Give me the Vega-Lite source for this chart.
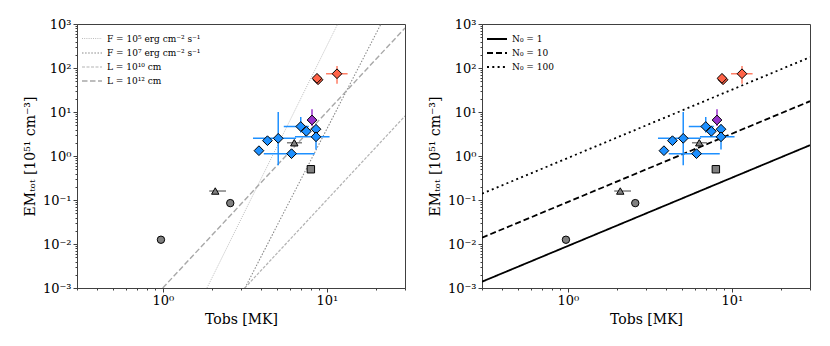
{
  "$schema": "https://vega.github.io/schema/vega-lite/v6.json",
  "background": "white",
  "padding": {"left": 22, "top": 17, "right": 0, "bottom": 0},
  "bounds": "flush",
  "spacing": 77,
  "datasets": {
    "points": [
      {"T": 3.86, "EM": 1.32, "kind": "blue", "Tlo": 3.7, "Thi": 4.05},
      {"T": 4.35, "EM": 2.23, "kind": "blue"},
      {"T": 5.06, "EM": 2.52, "kind": "blue", "Tlo": 3.55, "Thi": 6.5, "EMlo": 0.62, "EMhi": 10.0},
      {"T": 6.10, "EM": 1.13, "kind": "blue", "Tlo": 4.13, "Thi": 8.45},
      {"T": 6.94, "EM": 4.68, "kind": "blue", "Tlo": 5.47, "Thi": 7.77, "EMlo": 3.4, "EMhi": 7.7},
      {"T": 7.51, "EM": 3.64, "kind": "blue"},
      {"T": 8.60, "EM": 4.06, "kind": "blue"},
      {"T": 8.60, "EM": 2.73, "kind": "blue", "Tlo": 6.4, "Thi": 10.4, "EMlo": 1.4, "EMhi": 5.2},
      {"T": 8.13, "EM": 6.58, "kind": "purple", "Tlo": 7.8, "Thi": 8.5, "EMlo": 4.8, "EMhi": 11.5},
      {"T": 8.85, "EM": 54, "kind": "red"},
      {"T": 8.72, "EM": 58.2, "kind": "red"},
      {"T": 11.55, "EM": 74, "kind": "red", "Tlo": 9.9, "Thi": 13.4, "EMlo": 44, "EMhi": 111},
      {"T": 0.975, "EM": 0.0125, "kind": "gray_circle"},
      {"T": 2.58, "EM": 0.085, "kind": "gray_circle"},
      {"T": 2.09, "EM": 0.16, "kind": "gray_triangle", "Tlo": 1.92, "Thi": 2.43},
      {"T": 6.34, "EM": 2.0, "kind": "gray_triangle", "Tlo": 5.72, "Thi": 7.06},
      {"T": 8.0, "EM": 0.5, "kind": "gray_square"}
    ],
    "modelA": [
      {"model": "F = 10⁵ erg cm⁻² s⁻¹", "T": 1.86, "EM": 0.001},
      {"model": "F = 10⁵ erg cm⁻² s⁻¹", "T": 11.66, "EM": 1000},
      {"model": "F = 10⁷ erg cm⁻² s⁻¹", "T": 3.17, "EM": 0.001},
      {"model": "F = 10⁷ erg cm⁻² s⁻¹", "T": 21.4, "EM": 1000},
      {"model": "L = 10¹⁰ cm", "T": 3.16, "EM": 0.001},
      {"model": "L = 10¹⁰ cm", "T": 30, "EM": 8.1},
      {"model": "L = 10¹² cm", "T": 1.0, "EM": 0.001},
      {"model": "L = 10¹² cm", "T": 30, "EM": 810}
    ],
    "modelB": [
      {"model": "N₀ = 1", "T": 0.3, "EM": 0.00139},
      {"model": "N₀ = 1", "T": 30, "EM": 1.76},
      {"model": "N₀ = 10", "T": 0.3, "EM": 0.0139},
      {"model": "N₀ = 10", "T": 30, "EM": 17.6},
      {"model": "N₀ = 100", "T": 0.3, "EM": 0.139},
      {"model": "N₀ = 100", "T": 30, "EM": 176}
    ]
  },
  "config": {
    "font": "DejaVu Serif",
    "view": {"stroke": "#404040", "strokeWidth": 1},
    "axis": {
      "labelFont": "DejaVu Serif", "labelFontSize": 13, "labelColor": "#000",
      "titleFont": "DejaVu Serif", "titleFontSize": 14, "titleFontWeight": "normal", "titleColor": "#000",
      "domainColor": "#404040", "tickColor": "#404040", "tickWidth": 1,
      "labelPadding": 2, "titlePadding": 5, "grid": false, "labelOverlap": false
    },
    "legend": {
      "orient": "top-left", "offset": 6, "padding": 3,
      "labelFont": "DejaVu Serif", "labelFontSize": 9, "labelColor": "#000",
      "symbolType": "M-2,0L2,0", "symbolSize": 100, "rowPadding": 3, "labelOffset": 9
    }
  },
  "hconcat": [
    {
      "width": 328, "height": 264,
      "layer": [
        {
          "data": {"name": "modelA"},
          "mark": {"type": "line", "clip": true},
          "encoding": {
            "x": {"field": "T", "type": "quantitative", "scale": {"type": "log", "domain": [0.3, 30], "nice": false},
              "axis": {"title": "Tobs [MK]", "values": [0.3,0.4,0.5,0.6,0.7,0.8,0.9,1,2,3,4,5,6,7,8,9,10,20,30],
                "labelExpr": "datum.value == 1 ? '10⁰' : datum.value == 10 ? '10¹' : ''",
                "tickSize": {"condition": {"test": "datum.value == 1 || datum.value == 10", "value": 4}, "value": 2}}},
            "y": {"field": "EM", "type": "quantitative", "scale": {"type": "log", "domain": [0.001, 1000], "nice": false},
              "axis": {"title": "EMₜₒₜ [10⁵¹ cm⁻³]",
                "values": [0.001,0.002,0.003,0.004,0.005,0.006,0.007,0.008,0.009,0.01,0.02,0.03,0.04,0.05,0.06,0.07,0.08,0.09,0.1,0.2,0.3,0.4,0.5,0.6,0.7,0.8,0.9,1,2,3,4,5,6,7,8,9,10,20,30,40,50,60,70,80,90,100,200,300,400,500,600,700,800,900,1000],
                "labelExpr": "datum.value == 0.001 ? '10⁻³' : datum.value == 0.01 ? '10⁻²' : datum.value == 0.1 ? '10⁻¹' : datum.value == 1 ? '10⁰' : datum.value == 10 ? '10¹' : datum.value == 100 ? '10²' : datum.value == 1000 ? '10³' : ''",
                "tickSize": {"condition": {"test": "datum.value == 0.001 || datum.value == 0.01 || datum.value == 0.1 || datum.value == 1 || datum.value == 10 || datum.value == 100 || datum.value == 1000", "value": 4}, "value": 2}}},
            "color": {"field": "model", "type": "nominal", "legend": {"title": null},
              "scale": {"domain": ["F = 10⁵ erg cm⁻² s⁻¹", "F = 10⁷ erg cm⁻² s⁻¹", "L = 10¹⁰ cm", "L = 10¹² cm"], "range": ["#b4b4b4", "#888888", "#b4b4b4", "#a8a8a8"]}},
            "strokeDash": {"field": "model", "type": "nominal", "legend": {"title": null},
              "scale": {"domain": ["F = 10⁵ erg cm⁻² s⁻¹", "F = 10⁷ erg cm⁻² s⁻¹", "L = 10¹⁰ cm", "L = 10¹² cm"], "range": [[1, 1.2], [1.5, 1.6], [3, 1.5], [5.5, 2.5]]}},
            "strokeWidth": {"field": "model", "type": "nominal", "legend": {"title": null},
              "scale": {"domain": ["F = 10⁵ erg cm⁻² s⁻¹", "F = 10⁷ erg cm⁻² s⁻¹", "L = 10¹⁰ cm", "L = 10¹² cm"], "range": [0.9, 1.4, 0.9, 1.6]}}
          }
        },
        {
          "data": {"name": "points"},
          "transform": [{"filter": "isValid(datum.Tlo)"}],
          "mark": {"type": "rule", "strokeWidth": 1.5},
          "encoding": {
            "x": {"field": "Tlo", "type": "quantitative", "scale": {"type": "log", "domain": [0.3, 30], "nice": false}},
            "x2": {"field": "Thi"},
            "y": {"field": "EM", "type": "quantitative", "scale": {"type": "log", "domain": [0.001, 1000], "nice": false}},
            "stroke": {"field": "kind", "type": "nominal", "legend": null,
              "scale": {"domain": ["blue", "purple", "red", "gray_triangle"], "range": ["#1E90FF", "#9932CC", "#FF7F66", "#808080"]}}
          }
        },
        {
          "data": {"name": "points"},
          "transform": [{"filter": "isValid(datum.EMlo)"}],
          "mark": {"type": "rule", "strokeWidth": 1.5},
          "encoding": {
            "x": {"field": "T", "type": "quantitative", "scale": {"type": "log", "domain": [0.3, 30], "nice": false}},
            "y": {"field": "EMlo", "type": "quantitative", "scale": {"type": "log", "domain": [0.001, 1000], "nice": false}},
            "y2": {"field": "EMhi"},
            "stroke": {"field": "kind", "type": "nominal", "legend": null,
              "scale": {"domain": ["blue", "purple", "red", "gray_triangle"], "range": ["#1E90FF", "#9932CC", "#FF7F66", "#808080"]}}
          }
        },
        {
          "data": {"name": "points"},
          "transform": [{"filter": "datum.kind == 'blue' || datum.kind == 'purple' || datum.kind == 'red'"}],
          "mark": {"type": "point", "filled": true, "shape": "diamond", "size": 95, "stroke": "black", "strokeWidth": 1, "opacity": 1},
          "encoding": {
            "x": {"field": "T", "type": "quantitative", "scale": {"type": "log", "domain": [0.3, 30], "nice": false}},
            "y": {"field": "EM", "type": "quantitative", "scale": {"type": "log", "domain": [0.001, 1000], "nice": false}},
            "fill": {"field": "kind", "type": "nominal", "legend": null,
              "scale": {"domain": ["blue", "purple", "red"], "range": ["#1E90FF", "#9932CC", "#FF6347"]}}
          }
        },
        {
          "data": {"name": "points"},
          "transform": [{"filter": "indexof(datum.kind, 'gray') == 0"}],
          "mark": {"type": "point", "filled": true, "size": 55, "color": "#808080", "stroke": "black", "strokeWidth": 1, "opacity": 1},
          "encoding": {
            "x": {"field": "T", "type": "quantitative", "scale": {"type": "log", "domain": [0.3, 30], "nice": false}},
            "y": {"field": "EM", "type": "quantitative", "scale": {"type": "log", "domain": [0.001, 1000], "nice": false}},
            "shape": {"field": "kind", "type": "nominal", "legend": null,
              "scale": {"domain": ["gray_circle", "gray_triangle", "gray_square"], "range": ["circle", "triangle-up", "square"]}}
          }
        }
      ]
    },
    {
      "width": 328, "height": 264,
      "layer": [
        {
          "data": {"name": "modelB"},
          "mark": {"type": "line", "clip": true},
          "encoding": {
            "x": {"field": "T", "type": "quantitative", "scale": {"type": "log", "domain": [0.3, 30], "nice": false},
              "axis": {"title": "Tobs [MK]", "values": [0.3,0.4,0.5,0.6,0.7,0.8,0.9,1,2,3,4,5,6,7,8,9,10,20,30],
                "labelExpr": "datum.value == 1 ? '10⁰' : datum.value == 10 ? '10¹' : ''",
                "tickSize": {"condition": {"test": "datum.value == 1 || datum.value == 10", "value": 4}, "value": 2}}},
            "y": {"field": "EM", "type": "quantitative", "scale": {"type": "log", "domain": [0.001, 1000], "nice": false},
              "axis": {"title": "EMₜₒₜ [10⁵¹ cm⁻³]",
                "values": [0.001,0.002,0.003,0.004,0.005,0.006,0.007,0.008,0.009,0.01,0.02,0.03,0.04,0.05,0.06,0.07,0.08,0.09,0.1,0.2,0.3,0.4,0.5,0.6,0.7,0.8,0.9,1,2,3,4,5,6,7,8,9,10,20,30,40,50,60,70,80,90,100,200,300,400,500,600,700,800,900,1000],
                "labelExpr": "datum.value == 0.001 ? '10⁻³' : datum.value == 0.01 ? '10⁻²' : datum.value == 0.1 ? '10⁻¹' : datum.value == 1 ? '10⁰' : datum.value == 10 ? '10¹' : datum.value == 100 ? '10²' : datum.value == 1000 ? '10³' : ''",
                "tickSize": {"condition": {"test": "datum.value == 0.001 || datum.value == 0.01 || datum.value == 0.1 || datum.value == 1 || datum.value == 10 || datum.value == 100 || datum.value == 1000", "value": 4}, "value": 2}}},
            "color": {"field": "model", "type": "nominal", "legend": {"title": null},
              "scale": {"domain": ["N₀ = 1", "N₀ = 10", "N₀ = 100"], "range": ["#000000", "#000000", "#000000"]}},
            "strokeDash": {"field": "model", "type": "nominal", "legend": {"title": null},
              "scale": {"domain": ["N₀ = 1", "N₀ = 10", "N₀ = 100"], "range": [[1, 0], [6, 3], [2, 3.3]]}},
            "strokeWidth": {"field": "model", "type": "nominal", "legend": {"title": null},
              "scale": {"domain": ["N₀ = 1", "N₀ = 10", "N₀ = 100"], "range": [1.8, 1.8, 2]}}
          }
        },
        {
          "data": {"name": "points"},
          "transform": [{"filter": "isValid(datum.Tlo)"}],
          "mark": {"type": "rule", "strokeWidth": 1.5},
          "encoding": {
            "x": {"field": "Tlo", "type": "quantitative", "scale": {"type": "log", "domain": [0.3, 30], "nice": false}},
            "x2": {"field": "Thi"},
            "y": {"field": "EM", "type": "quantitative", "scale": {"type": "log", "domain": [0.001, 1000], "nice": false}},
            "stroke": {"field": "kind", "type": "nominal", "legend": null,
              "scale": {"domain": ["blue", "purple", "red", "gray_triangle"], "range": ["#1E90FF", "#9932CC", "#FF7F66", "#808080"]}}
          }
        },
        {
          "data": {"name": "points"},
          "transform": [{"filter": "isValid(datum.EMlo)"}],
          "mark": {"type": "rule", "strokeWidth": 1.5},
          "encoding": {
            "x": {"field": "T", "type": "quantitative", "scale": {"type": "log", "domain": [0.3, 30], "nice": false}},
            "y": {"field": "EMlo", "type": "quantitative", "scale": {"type": "log", "domain": [0.001, 1000], "nice": false}},
            "y2": {"field": "EMhi"},
            "stroke": {"field": "kind", "type": "nominal", "legend": null,
              "scale": {"domain": ["blue", "purple", "red", "gray_triangle"], "range": ["#1E90FF", "#9932CC", "#FF7F66", "#808080"]}}
          }
        },
        {
          "data": {"name": "points"},
          "transform": [{"filter": "datum.kind == 'blue' || datum.kind == 'purple' || datum.kind == 'red'"}],
          "mark": {"type": "point", "filled": true, "shape": "diamond", "size": 95, "stroke": "black", "strokeWidth": 1, "opacity": 1},
          "encoding": {
            "x": {"field": "T", "type": "quantitative", "scale": {"type": "log", "domain": [0.3, 30], "nice": false}},
            "y": {"field": "EM", "type": "quantitative", "scale": {"type": "log", "domain": [0.001, 1000], "nice": false}},
            "fill": {"field": "kind", "type": "nominal", "legend": null,
              "scale": {"domain": ["blue", "purple", "red"], "range": ["#1E90FF", "#9932CC", "#FF6347"]}}
          }
        },
        {
          "data": {"name": "points"},
          "transform": [{"filter": "indexof(datum.kind, 'gray') == 0"}],
          "mark": {"type": "point", "filled": true, "size": 55, "color": "#808080", "stroke": "black", "strokeWidth": 1, "opacity": 1},
          "encoding": {
            "x": {"field": "T", "type": "quantitative", "scale": {"type": "log", "domain": [0.3, 30], "nice": false}},
            "y": {"field": "EM", "type": "quantitative", "scale": {"type": "log", "domain": [0.001, 1000], "nice": false}},
            "shape": {"field": "kind", "type": "nominal", "legend": null,
              "scale": {"domain": ["gray_circle", "gray_triangle", "gray_square"], "range": ["circle", "triangle-up", "square"]}}
          }
        }
      ]
    }
  ],
  "resolve": {
    "scale": {"x": "independent", "y": "independent", "color": "independent", "strokeDash": "independent", "strokeWidth": "independent", "fill": "independent", "shape": "independent", "stroke": "independent"},
    "axis": {"x": "independent", "y": "independent"},
    "legend": {"color": "independent", "strokeDash": "independent", "strokeWidth": "independent"}
  }
}
